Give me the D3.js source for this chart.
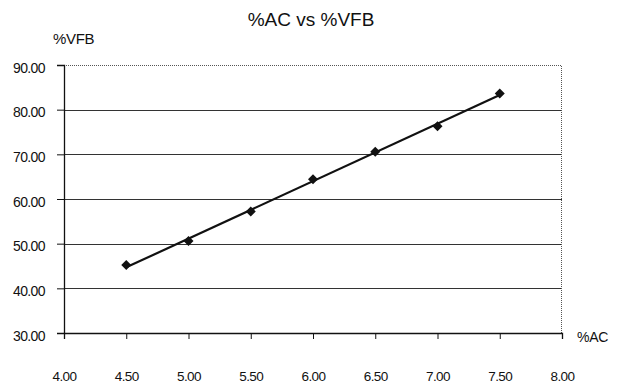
<!DOCTYPE html>
<html>
<head>
<meta charset="utf-8">
<script src="https://cdn.jsdelivr.net/npm/d3@7"></script>
<style>
  body { margin: 0; background: #fff; }
  text { font-family: "Liberation Sans", Arial, sans-serif; fill: #111; }
</style>
</head>
<body>
<div id="chart"></div>
<script>
// Chart data
let acValues = [4.5, 5.0, 5.5, 6.0, 6.5, 7.0, 7.5];
let vfbValues = [45.2, 50.6, 57.2, 64.4, 70.6, 76.3, 83.6];
let xTicks = [4.0, 4.5, 5.0, 5.5, 6.0, 6.5, 7.0, 7.5, 8.0];
let yTicks = [30, 40, 50, 60, 70, 80, 90];

let svgWidth = 619;
let svgHeight = 389;
let margin = { top: 65, right: 57, bottom: 56, left: 64 };
let width = svgWidth - margin.left - margin.right;
let height = svgHeight - margin.top - margin.bottom;

let svg = d3.select("#chart")
  .append("svg")
  .attr("width", svgWidth)
  .attr("height", svgHeight);

let chartGroup = svg.append("g")
  .attr("transform", `translate(${margin.left}, ${margin.top})`);

let xScale = d3.scaleLinear().domain([4, 8]).range([0, width]);
let yScale = d3.scaleLinear().domain([30, 90]).range([height, 0]);

// Gridlines
chartGroup.selectAll(".grid")
  .data(yTicks.slice(1, -1))
  .enter()
  .append("line")
  .attr("x1", 0)
  .attr("x2", width)
  .attr("y1", d => Math.round(yScale(d)) + 0.5)
  .attr("y2", d => Math.round(yScale(d)) + 0.5)
  .attr("stroke", "#333")
  .attr("stroke-width", 1);

// dotted plot border (top and right)
chartGroup.append("path")
  .attr("d", `M0,0.5H${width - 0.5}V${height}`)
  .attr("fill", "none")
  .attr("stroke", "#555")
  .attr("stroke-dasharray", "1,1");

// Axes
let leftAxis = d3.axisLeft(yScale).tickValues(yTicks).tickFormat(d3.format(".2f")).tickSize(7).tickPadding(12);
let bottomAxis = d3.axisBottom(xScale).tickValues(xTicks).tickFormat(d3.format(".2f")).tickSize(6);

let yAxis = chartGroup.append("g").call(leftAxis);
let xAxis = chartGroup.append("g").attr("transform", `translate(0, ${height})`).call(bottomAxis);

[yAxis, xAxis].forEach(ax => {
  ax.select(".domain").attr("stroke", "#111").attr("stroke-width", 1.3);
  ax.selectAll(".tick line").attr("stroke", "#111");
  ax.selectAll("text")
    .style("font-family", "'Liberation Sans', Arial, sans-serif")
    .attr("fill", "#111");
});
yAxis.selectAll("text")
  .style("font-size", "14px")
  .attr("letter-spacing", "-0.6")
  .attr("dy", "0.5em");
xAxis.selectAll("text")
  .style("font-size", "13.5px")
  .attr("letter-spacing", "-0.6")
  .attr("y", 48)
  .attr("dy", 0);

// Linear trendline (least squares)
let mx = d3.mean(acValues);
let my = d3.mean(vfbValues);
let slope = d3.sum(acValues, (x, i) => (x - mx) * (vfbValues[i] - my)) / d3.sum(acValues, x => (x - mx) * (x - mx));
let intercept = my - slope * mx;
let xMin = d3.min(acValues), xMax = d3.max(acValues);

chartGroup.append("line")
  .attr("x1", xScale(xMin))
  .attr("y1", yScale(intercept + slope * xMin))
  .attr("x2", xScale(xMax))
  .attr("y2", yScale(intercept + slope * xMax))
  .attr("stroke", "#111")
  .attr("stroke-width", 2.2);

// Diamond markers
chartGroup.selectAll(".pt")
  .data(acValues)
  .enter()
  .append("path")
  .attr("d", d3.symbol().type(d3.symbolDiamond2).size(64))
  .attr("transform", (d, i) => `translate(${xScale(d)}, ${yScale(vfbValues[i])})`)
  .attr("fill", "#111");

// Title and axis labels
svg.append("text")
  .attr("x", 311)
  .attr("y", 26)
  .attr("text-anchor", "middle")
  .style("font-size", "19px")
  .text("%AC vs %VFB");

svg.append("text")
  .attr("x", 53)
  .attr("y", 44)
  .style("font-size", "15px")
  .attr("letter-spacing", "-0.3")
  .text("%VFB");

svg.append("text")
  .attr("x", 577)
  .attr("y", 342)
  .style("font-size", "14px")
  .attr("letter-spacing", "-0.3")
  .text("%AC");
</script>
</body>
</html>
